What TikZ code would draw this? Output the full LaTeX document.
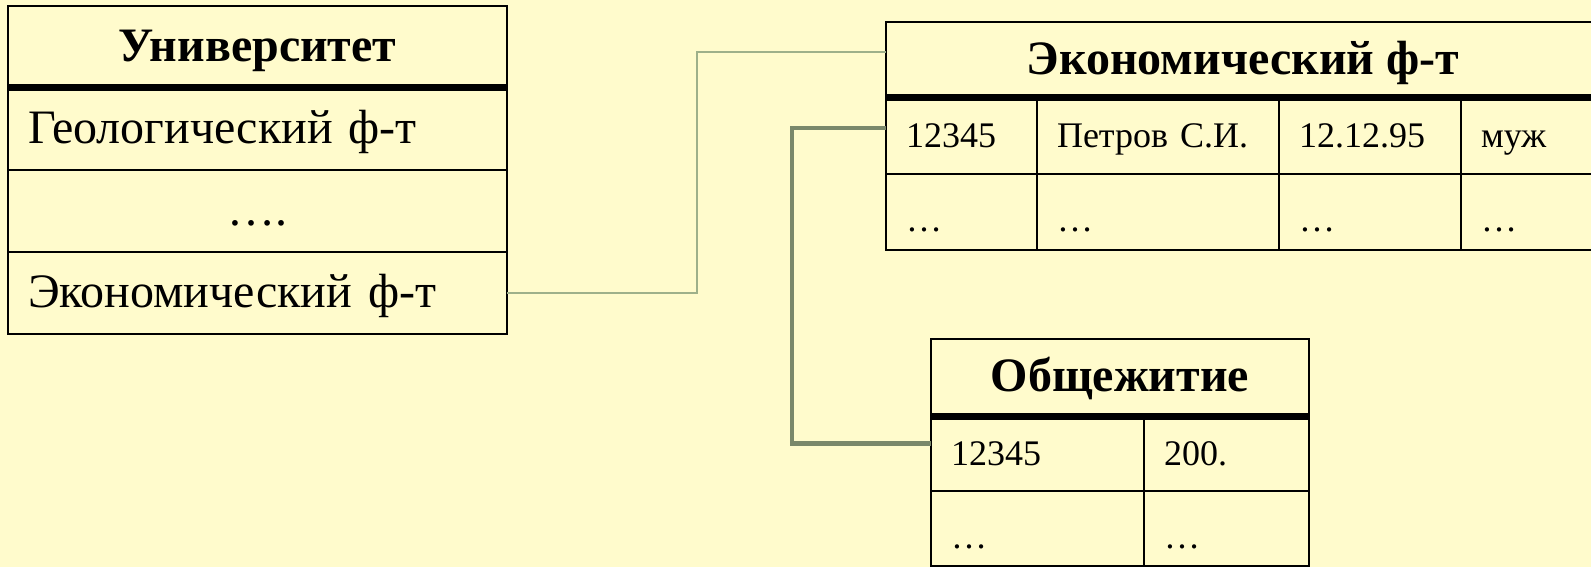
\documentclass[tikz,border=0pt]{standalone}
\usepackage{fontspec}
\setmainfont{Liberation Serif}
\usepackage{xcolor}
\usepackage{tikz}
\usetikzlibrary{positioning}
\definecolor{paper}{RGB}{255,251,204}
\definecolor{link}{RGB}{158,176,138}
\definecolor{link2}{RGB}{122,136,106}

\begin{document}
\begin{tikzpicture}[x=1pt, y=1pt,
  t/.style={draw, line width=1pt, outer sep=0pt, inner ysep=0pt, anchor=north west},
  h/.style={t, inner xsep=0pt, font=\bfseries\fontsize{24}{29}\selectfont,
            text height=14.4pt, text depth=0pt},
  r/.style={t, inner xsep=10pt, align=left, font=\fontsize{24}{29}\selectfont,
            text height=14.4pt, text depth=0pt},
  c/.style={t, inner xsep=10pt, align=left, font=\fontsize{18}{22}\selectfont,
            text height=11.5pt, text depth=0pt},
  d/.style={c, text height=19.5pt},
  s/.style={line width=3.5pt},
  a/.style={draw=link, line width=.75pt},
  a2/.style={draw=link2, line width=2.25pt}]
  \useasboundingbox (0,0) rectangle (795.5,-283.5);
  \fill[paper] (0,0) rectangle (795.5,-283.5);
  \clip (0,0) rectangle (795.5,-283.5);

  \node[h, minimum width=249.5pt, minimum height=41pt] (uh) at (4,-3) {Университет};
  \node[r, text width=229.5pt, minimum height=41pt, below=0pt of uh] (u1) {Геологический ф-т};
  \node[r, text width=229.5pt, minimum height=41pt, align=center, below=0pt of u1] (u2) {….};
  \node[r, text width=229.5pt, minimum height=41pt, below=0pt of u2] (u3) {Экономический ф-т};
  \draw[s] (uh.south west) -- (uh.south east);

  \node[h, minimum width=357pt, minimum height=38pt] (eh) at (443,-11) {Экономический ф-т};
  \node[c, text width=55.5pt, minimum height=38pt, below right=0pt of eh.south west] (e11) {12345};
  \node[c, text width=101pt, minimum height=38pt, right=0pt of e11] (e12) {Петров С.И.};
  \node[c, text width=71pt, minimum height=38pt, right=0pt of e12] (e13) {12.12.95};
  \node[c, text width=49.5pt, minimum height=38pt, right=0pt of e13] (e14) {муж};
  \node[d, text width=55.5pt, minimum height=38pt, below=0pt of e11] (e21) {…};
  \node[d, text width=101pt, minimum height=38pt, right=0pt of e21] (e22) {…};
  \node[d, text width=71pt, minimum height=38pt, right=0pt of e22] (e23) {…};
  \node[d, text width=49.5pt, minimum height=38pt, right=0pt of e23] (e24) {…};
  \draw[s] (eh.south west) -- (eh.south east);

  \node[h, minimum width=189pt, minimum height=38.5pt] (oh) at (465.5,-169.5) {Общежитие};
  \node[c, text width=86.5pt, minimum height=37.5pt, below right=0pt of oh.south west] (o11) {12345};
  \node[c, text width=62.5pt, minimum height=37.5pt, right=0pt of o11] (o12) {200.};
  \node[d, text width=86.5pt, minimum height=37.5pt, below=0pt of o11] (o21) {…};
  \node[d, text width=62.5pt, minimum height=37.5pt, right=0pt of o21] (o22) {…};
  \draw[s] (oh.south west) -- (oh.south east);

  \draw[a] (u3.east) -- ++(95,0) |- ([yshift=4pt]eh.west);
  \draw[a2] ([yshift=4pt]e11.west) -- ++(-47,0) |- ([yshift=5pt]o11.west);
\end{tikzpicture}
\end{document}
